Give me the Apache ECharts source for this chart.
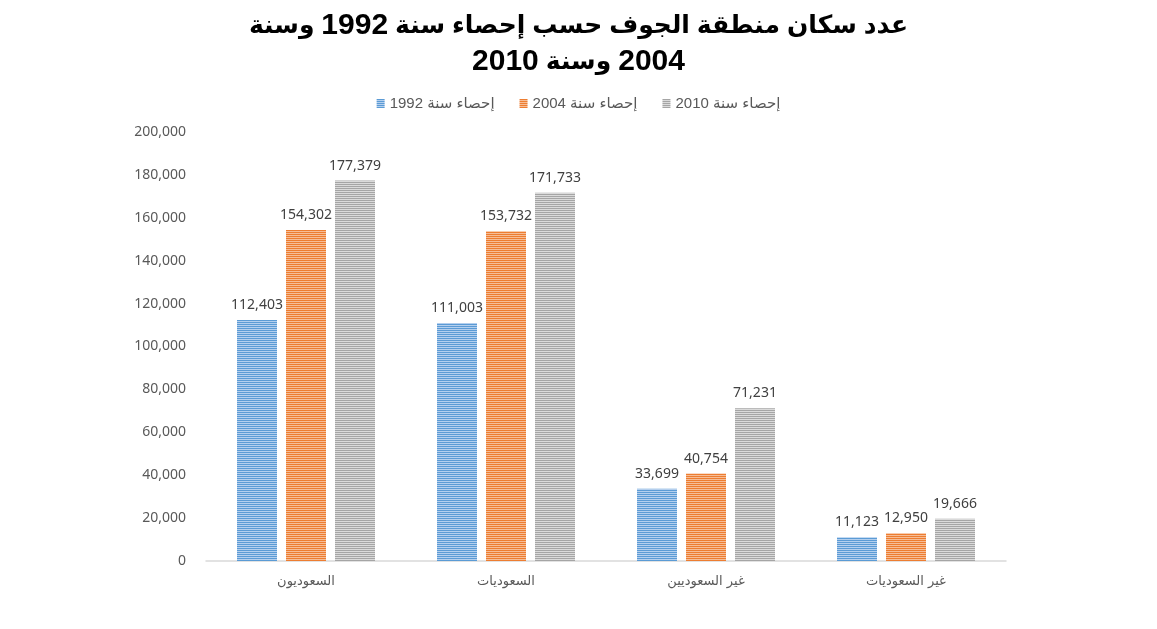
<!DOCTYPE html>
<html>
<head>
<meta charset="utf-8">
<script src="https://cdn.jsdelivr.net/npm/echarts@6/dist/echarts.min.js"></script>
<style>html,body{margin:0;padding:0;background:#fff}#c{width:1157px;height:629px}</style>
</head>
<body>
<div id="c"></div>
<script>
const titleLine1 = 'عدد سكان منطقة الجوف حسب إحصاء سنة 1992 وسنة';
const titleLine2 = '2004 وسنة 2010';
const categories = ['السعوديون', 'السعوديات', 'غير السعوديين', 'غير السعوديات'];
const seriesNames = ['إحصاء سنة 1992', 'إحصاء سنة 2004', 'إحصاء سنة 2010'];
const values1992 = [112403, 111003, 33699, 11123];
const values2004 = [154302, 153732, 40754, 12950];
const values2010 = [177379, 171733, 71231, 19666];
const yTicks = [0, 20000, 40000, 60000, 80000, 100000, 120000, 140000, 160000, 180000, 200000];

function stripe(dark, light) {
  const cv = document.createElement('canvas');
  cv.width = 4; cv.height = 2;
  const g = cv.getContext('2d');
  g.fillStyle = light; g.fillRect(0, 0, 4, 2);
  g.fillStyle = dark; g.fillRect(0, 0, 4, 1);
  return { image: cv, repeat: 'repeat' };
}
const colors = [stripe('#5b9bd5', '#b4cfee'), stripe('#ed7d31', '#f6bd96'), stripe('#a5a5a5', '#dadada')];
const fmt = v => v.toLocaleString('en-US');

// right-to-left line drawn word by word (visual order)
const rtlLine = s => s.split(' ').reverse().map(w => '{' + (/^\d+$/.test(w) ? 'n' : 't') + '|' + w + '}').join('{t| }');
const titleFont = { fontFamily: 'Liberation Sans, DejaVu Sans, sans-serif', fontWeight: 'bold', fontSize: 25, color: '#000', lineHeight: 36 };
const numFont = Object.assign({}, titleFont, { fontSize: 30 });

const chart = echarts.init(document.getElementById('c'), null, { renderer: 'canvas' });
const dataSets = [values1992, values2004, values2010];
chart.setOption({
  animation: false,
  backgroundColor: '#fff',
  title: {
    text: rtlLine(titleLine1) + '\n' + rtlLine(titleLine2),
    left: 'center',
    top: 3,
    textStyle: Object.assign({ rich: { t: titleFont, n: numFont } }, titleFont)
  },
  legend: {
    top: 91,
    left: 'center',
    itemWidth: 8,
    itemHeight: 9,
    itemGap: 25,
    icon: 'rect',
    textStyle: { fontFamily: 'Liberation Sans, DejaVu Sans, sans-serif', fontSize: 15, color: '#595959' },
    data: seriesNames
  },
  grid: { left: 206, right: 151, top: 132, bottom: 68, containLabel: false },
  xAxis: {
    type: 'category',
    data: categories,
    axisLine: { lineStyle: { color: '#d9d9d9', width: 1.5 } },
    axisTick: { show: false },
    axisLabel: { margin: 14, fontFamily: 'DejaVu Sans, sans-serif', fontSize: 13, color: '#595959' }
  },
  yAxis: {
    type: 'value',
    min: yTicks[0],
    max: yTicks[yTicks.length - 1],
    interval: yTicks[1] - yTicks[0],
    axisLine: { show: false },
    axisTick: { show: false },
    splitLine: { show: false },
    axisLabel: { margin: 20, fontFamily: 'Noto Sans, sans-serif', fontSize: 14, color: '#595959', formatter: v => fmt(v) }
  },
  series: dataSets.map((d, i) => ({
    name: seriesNames[i],
    type: 'bar',
    data: d,
    barWidth: 40,
    barGap: '22.5%',
    itemStyle: { color: colors[i] },
    label: {
      show: true,
      position: 'top',
      distance: 8,
      fontFamily: 'Noto Sans, sans-serif',
      fontSize: 14,
      color: '#404040',
      formatter: p => fmt(p.value)
    }
  }))
});
</script>
</body>
</html>
